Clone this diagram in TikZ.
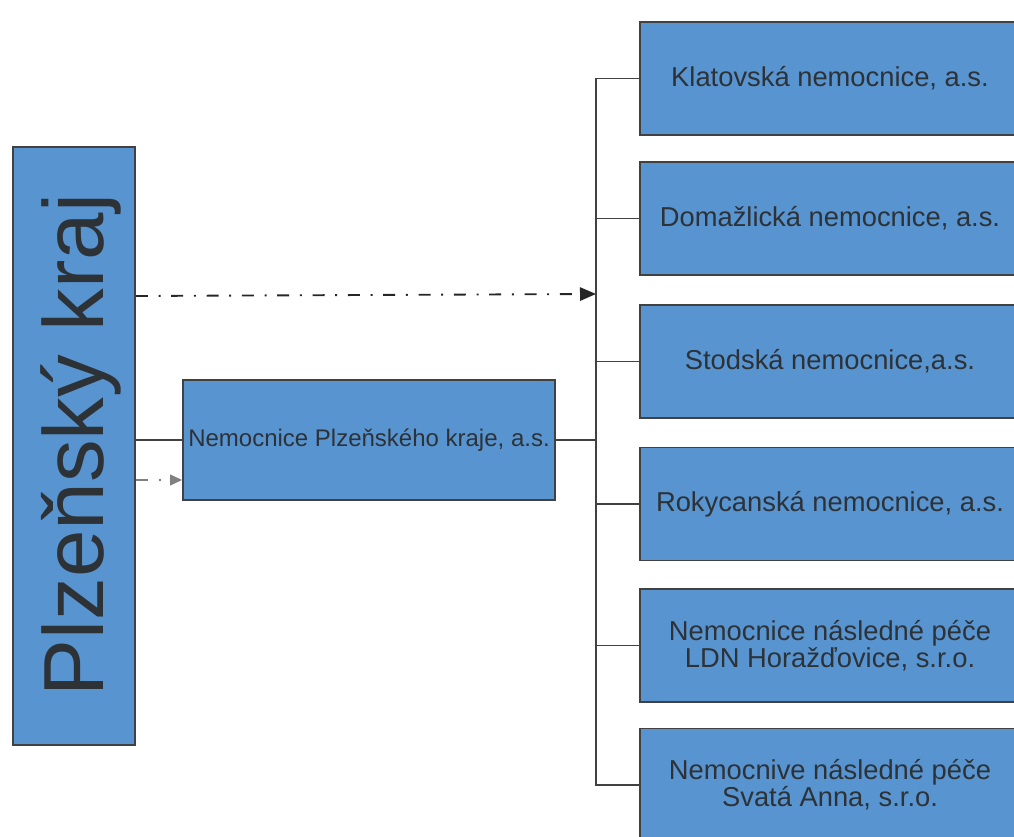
\documentclass[tikz,border=0pt]{standalone}
\usepackage{fontspec}
\setmainfont{Liberation Sans}
\usetikzlibrary{arrows.meta}
\definecolor{boxblue}{RGB}{88,148,208}
\definecolor{boxline}{RGB}{65,65,65}
\definecolor{txt}{RGB}{45,50,55}
\begin{document}
\begin{tikzpicture}[x=0.75pt,y=0.75pt,
  orgbox/.style={draw=boxline, line width=1.3pt, fill=boxblue, inner sep=0pt, text=txt, align=center},
  rbox/.style={orgbox, minimum width=285pt, minimum height=84.75pt, font=\fontsize{20.5}{20.5}\selectfont},
  link/.style={draw=boxline, line width=1.4pt},
  dashdot/.style={dash pattern=on 9pt off 8pt on 1.5pt off 8pt}]
\clip (0,0) rectangle (1014,-837);
% left box
\node[orgbox, minimum width=91.5pt, minimum height=448.5pt] (L) at (74,-446) {};
\node[rotate=90, text=txt, font=\fontsize{64}{64}\selectfont, anchor=base, inner sep=0pt] (Lt) at (103,-445) {Plzeňský kraj};
% middle box
\node[orgbox, minimum width=279pt, minimum height=90pt, font=\fontsize{18}{18}\selectfont] (M) at (369,-440) {Nemocnice Plzeňského kraje, a.s.};
% right boxes
\node[rbox] (R1) at (830,-78.5) {Klatovská nemocnice, a.s.};
\node[rbox] (R2) at (830,-218.5) {Domažlická nemocnice, a.s.};
\node[rbox] (R3) at (830,-361.5) {Stodská nemocnice,a.s.};
\node[rbox] (R4) at (830,-504) {Rokycanská nemocnice, a.s.};
\node[rbox] (R5) at (830,-645.5) {Nemocnice následné péče\\LDN Horažďovice, s.r.o.};
\node[rbox] (R6) at (830,-785) {Nemocnive následné péče\\Svatá Anna, s.r.o.};
% bus
\coordinate (busx) at (596,0);
\draw[link] (R1.west) -- (R1.west -| busx) -- (R6.west -| busx) -- (R6.west);
\foreach \r in {R2,R3,R4,R5} { \draw[link] (\r.west) -- (\r.west -| busx); }
\draw[link] (M.east) -- (M.east -| busx);
% left to middle
\draw[link] (L.east |- M.west) -- (M.west);
\coordinate (d1s) at (L.east |- 0,-480);
\coordinate (d1e) at (M.west |- 0,-480);
\draw[line width=1.4pt, draw=gray, dashdot, -{Triangle[length=9pt,width=8pt,fill=gray]}] (d1s) -- (d1e);
\coordinate (d2s) at (L.east |- 0,-296);
\coordinate (d2e) at (busx |- 0,-294);
\draw[line width=1.4pt, draw=black!85, dashdot, -{Triangle[length=12pt,width=10pt]}] (d2s) -- (d2e);
\end{tikzpicture}
\end{document}
